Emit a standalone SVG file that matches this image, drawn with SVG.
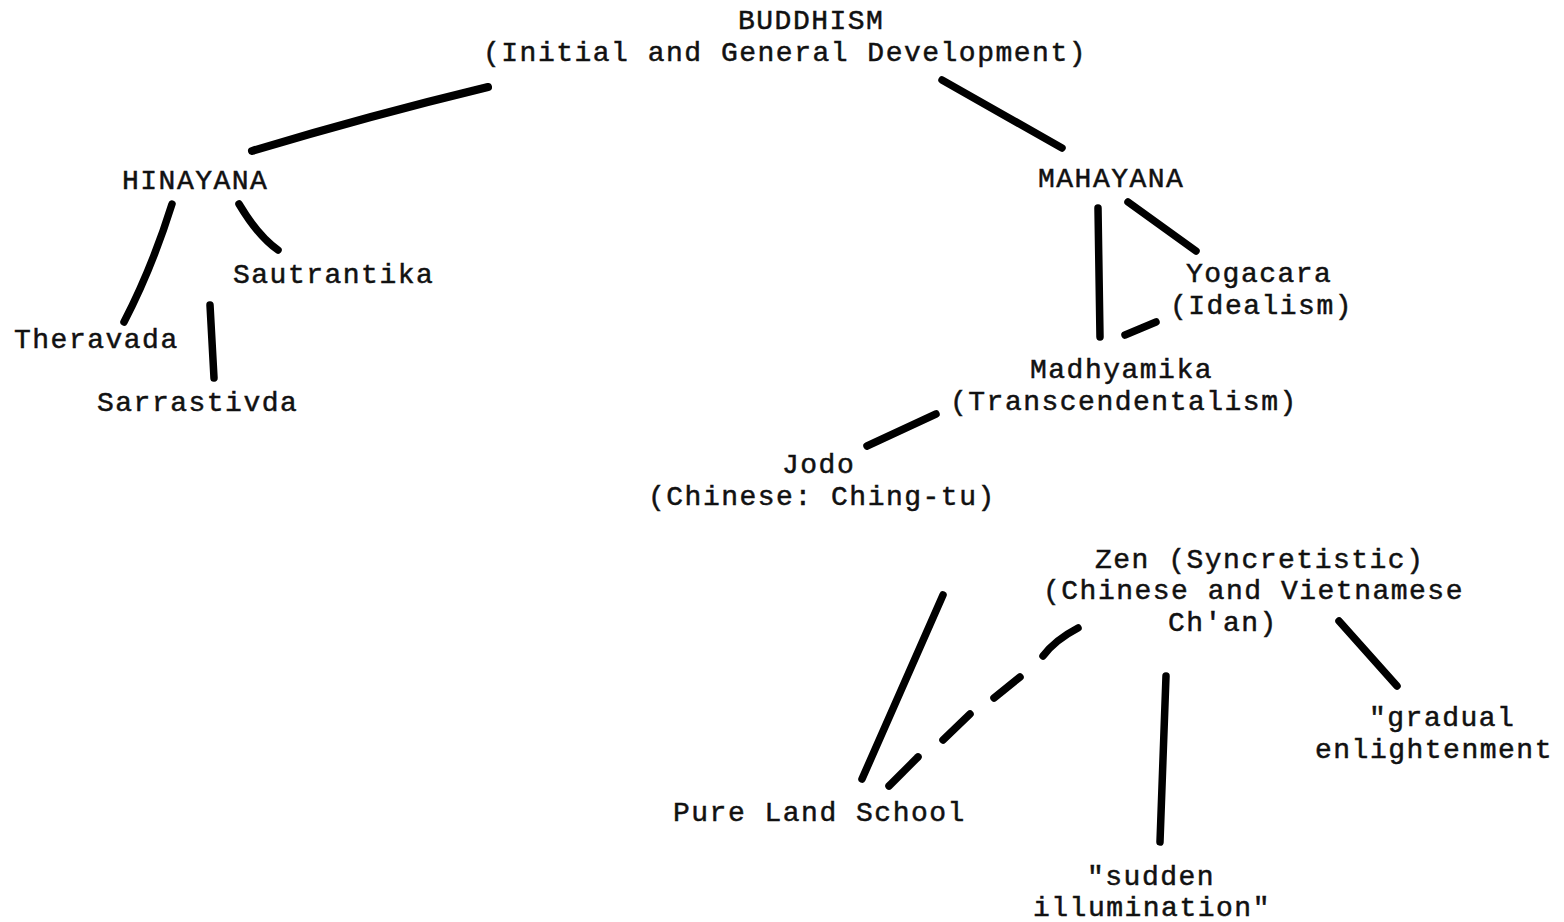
<svg xmlns="http://www.w3.org/2000/svg" width="1564" height="922" viewBox="0 0 1564 922">
<style>
text{font-family:"Liberation Mono","DejaVu Sans Mono",monospace;font-size:28px;letter-spacing:1.5px;fill:#111;stroke:#111;stroke-width:0.5}
.c{fill:none;stroke:#000;stroke-width:7.5;stroke-linecap:round}
</style>
<rect width="1564" height="922" fill="#fff"/>
<g id="connectors">
<path class="c" d="M252,151 Q368,116 488,87" style="stroke-width:8"/>
<path class="c" d="M942,80 L1062,148"/>
<path class="c" d="M172,204 Q152,268 124,322"/>
<path class="c" d="M239,204 Q258,236 278,250"/>
<path class="c" d="M210,305 L214,378"/>
<path class="c" d="M1098,208 L1100,337"/>
<path class="c" d="M1128,202 L1196,251"/>
<path class="c" d="M1125,335 L1156,322"/>
<path class="c" d="M867,446 L936,414"/>
<path class="c" d="M943,595 L862,779"/>
<path class="c" d="M1078,628 Q1055,640 1043,656"/>
<path class="c" d="M1020,677 L994,698"/>
<path class="c" d="M970,714 L943,740"/>
<path class="c" d="M918,757 L889,786"/>
<path class="c" d="M1166,676 L1160,842"/>
<path class="c" d="M1339,621 L1397,686"/>
</g>
<g id="buddhism"><text x="738" y="29">BUDDHISM</text><text x="483" y="61">(Initial and General Development)</text></g>
<g id="hinayana"><text x="122" y="189">HINAYANA</text></g>
<g id="sautrantika"><text x="233" y="283">Sautrantika</text></g>
<g id="theravada"><text x="14" y="348">Theravada</text></g>
<g id="sarrastivda"><text x="97" y="411">Sarrastivda</text></g>
<g id="mahayana"><text x="1038" y="187">MAHAYANA</text></g>
<g id="yogacara"><text x="1186" y="282">Yogacara</text><text x="1170" y="314">(Idealism)</text></g>
<g id="madhyamika"><text x="1030" y="378">Madhyamika</text><text x="950" y="410">(Transcendentalism)</text></g>
<g id="jodo"><text x="782" y="473">Jodo</text><text x="648" y="505">(Chinese: Ching-tu)</text></g>
<g id="zen"><text x="1095" y="568">Zen (Syncretistic)</text><text x="1043" y="599">(Chinese and Vietnamese</text><text x="1168" y="631">Ch'an)</text></g>
<g id="gradual"><text x="1369" y="726">"gradual</text><text x="1315" y="758">enlightenment</text></g>
<g id="pureland"><text x="673" y="821">Pure Land School</text></g>
<g id="sudden"><text x="1087" y="885">"sudden</text><text x="1033" y="916">illumination"</text></g>
</svg>
